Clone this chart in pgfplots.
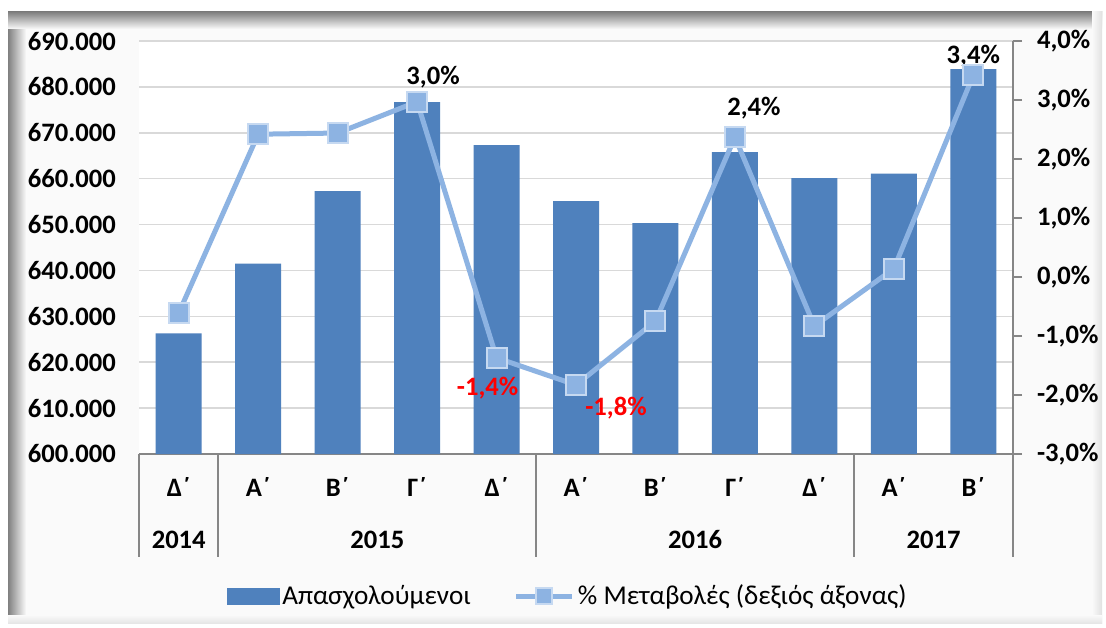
\documentclass[border=0pt]{standalone}
\usepackage{pgfplots}
\pgfplotsset{compat=1.18}
\usepackage{fontspec}
\setmainfont{Carlito}
\definecolor{barblue}{HTML}{4F81BD}
\definecolor{linblue}{HTML}{8DB3E2}
\definecolor{mkedge}{HTML}{C6D9F1}
\definecolor{gridc}{HTML}{D9D9D9}
\definecolor{axc}{HTML}{868686}
\definecolor{bgc}{HTML}{FAFAFA}
\newcommand{\lblfont}{\bfseries\fontsize{13.3pt}{15pt}\selectfont}
\newcommand{\legfont}{\fontsize{13.6pt}{15pt}\selectfont}
\begin{document}
\begin{tikzpicture}
\useasboundingbox (0,0) rectangle (553pt,313.5pt);
\fill[white] (0,0) rectangle (553pt,313.5pt);
\fill[bgc] (4pt,2pt) rectangle (551pt,307.5pt);
\shade[left color=black!50, right color=bgc] (4pt,2pt) rectangle (13pt,307.5pt);
\shade[top color=black!50, bottom color=bgc] (4pt,299pt) rectangle (551pt,307.5pt);
\shade[left color=bgc, right color=black!12] (546pt,2pt) rectangle (551pt,307.5pt);
\shade[top color=bgc, bottom color=black!10] (4pt,2pt) rectangle (551pt,6pt);

\begin{axis}[
  at={(69.5pt,86.5pt)}, anchor=south west,
  scale only axis, width=437pt, height=206.5pt,
  xmin=-0.5, xmax=10.5, ymin=600000, ymax=690000,
  ytick={600000,610000,...,690000},
  scaled y ticks=false,
  axis background/.style={fill=white},
  ymajorgrids, grid style={gridc, line width=0.8pt},
  axis x line*=bottom, axis y line*=left,
  x axis line style={axc, line width=1pt, -},
  y axis line style={draw=none},
  major tick length=0pt,
  xtick={0,...,10},
  xticklabels={Δ΄,Α΄,Β΄,Γ΄,Δ΄,Α΄,Β΄,Γ΄,Δ΄,Α΄,Β΄},
  xticklabel style={font=\lblfont, anchor=center},
  xticklabel shift=16.5pt,
  yticklabel={\pgfmathprintnumber[fixed, precision=0, 1000 sep={.}, assume math mode=true]{\tick}},
  yticklabel style={font=\lblfont},
  yticklabel shift=8pt,
  clip=false,
]
\addplot[ybar, bar width=23pt, bar shift=0pt, fill=barblue, draw=none] coordinates {
 (0,626300) (1,641500) (2,657300) (3,676700) (4,667300)
 (5,655100) (6,650300) (7,665800) (8,660100) (9,661100) (10,683900)};
\foreach \sx in {-0.5,0.5,4.5,8.5,10.5}{
  \edef\temp{\noexpand\draw[axc, line width=1pt] (axis cs:\sx,600000) -- ([yshift=-51.5pt]axis cs:\sx,600000);}
  \temp
}
\node[font=\lblfont] at ([yshift=-43pt]axis cs:0,600000) {2014};
\node[font=\lblfont] at ([yshift=-43pt]axis cs:2.5,600000) {2015};
\node[font=\lblfont] at ([yshift=-43pt]axis cs:6.5,600000) {2016};
\node[font=\lblfont] at ([yshift=-43pt]axis cs:9.5,600000) {2017};
\end{axis}

\begin{axis}[
  at={(69.5pt,86.5pt)}, anchor=south west,
  scale only axis, width=437pt, height=206.5pt,
  xmin=-0.5, xmax=10.5, ymin=-3, ymax=4,
  axis x line=none, axis y line*=right,
  y axis line style={axc, line width=1pt, -},
  ytick={-3,...,4},
  tick align=outside, major tick length=4.5pt,
  tick style={axc, line width=1pt},
  yticklabel={\pgfmathprintnumber[fixed, fixed zerofill, precision=1, use comma, assume math mode=true]{\tick}\%},
  yticklabel style={font=\lblfont},
  yticklabel shift=4pt,
  clip=false,
  legend columns=2,
  legend style={at={(0.491,-0.344)}, anchor=center, draw=none, fill=none,
    font=\legfont, /tikz/every even column/.append style={column sep=20pt},
    nodes={inner sep=1.5pt}},
]
\addlegendimage{legend image code/.code={\fill[barblue] (0pt,-4pt) rectangle (26pt,4pt);}}
\addlegendentry{Απασχολούμενοι}
\addplot[linblue, line width=2.5pt, mark=square*, mark size=5pt,
  mark options={fill=linblue, draw=mkedge, line width=1pt},
  legend image code/.code={\draw[linblue, line width=2.5pt] (0pt,0pt) -- (28pt,0pt); \draw[linblue, mark=square*, mark size=4pt, mark options={fill=linblue, draw=mkedge, line width=1pt}] plot coordinates {(14pt,0pt)};}
  ] coordinates {
 (0,-0.61) (1,2.42) (2,2.44) (3,2.97) (4,-1.37)
 (5,-1.83) (6,-0.75) (7,2.37) (8,-0.83) (9,0.14) (10,3.42)};
\addlegendentry{\% Μεταβολές (δεξιός άξονας)}
\node[font=\lblfont] at ([shift={(8pt,12.5pt)}]axis cs:3,2.97) {3,0\%};
\node[font=\lblfont] at ([shift={(9.5pt,14.5pt)}]axis cs:7,2.37) {2,4\%};
\node[font=\lblfont] at ([shift={(0pt,9.5pt)}]axis cs:10,3.42) {3,4\%};
\node[font=\lblfont, text=red] at ([shift={(-4.5pt,-15pt)}]axis cs:4,-1.37) {-1,4\%};
\node[font=\lblfont, text=red] at ([shift={(20pt,-11.5pt)}]axis cs:5,-1.83) {-1,8\%};
\end{axis}
\end{tikzpicture}
\end{document}
